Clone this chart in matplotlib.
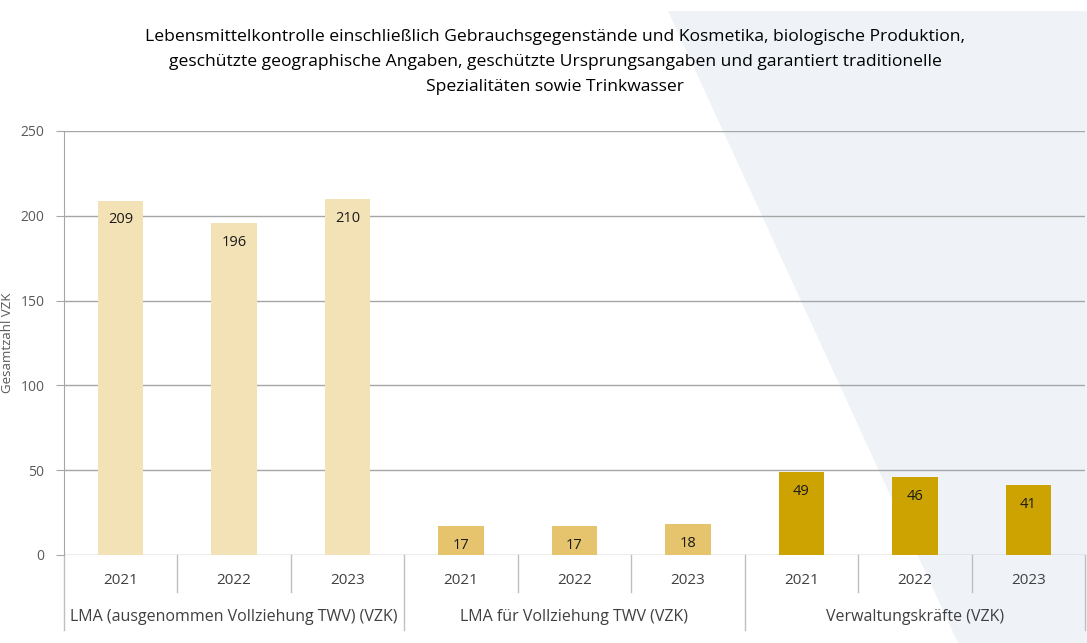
import matplotlib
matplotlib.use("Agg")
import matplotlib.pyplot as plt
from matplotlib.patches import Polygon
import matplotlib.transforms as mtransforms

plt.rcParams['font.family'] = ['Open Sans', 'DejaVu Sans']

# data
groups = ["LMA (ausgenommen Vollziehung TWV) (VZK)",
          "LMA für Vollziehung TWV (VZK)",
          "Verwaltungskräfte (VZK)"]
years = ["2021", "2022", "2023"]
lma_ohne_twv = [209, 196, 210]
lma_twv = [17, 17, 18]
verwaltung = [49, 46, 41]
group_colors = ["#F2E2B6", "#E6C46D", "#CCA300"]

title = ("Lebensmittelkontrolle einschließlich Gebrauchsgegenstände und Kosmetika, biologische Produktion,\n"
         "geschützte geographische Angaben, geschützte Ursprungsangaben und garantiert traditionelle\n"
         "Spezialitäten sowie Trinkwasser")

W, H = 1087, 643
fig = plt.figure(figsize=(W / 100, H / 100), dpi=100)

# light background shape on the right
bg = Polygon([(668 / W, 1 - 11 / H), (1, 1 - 11 / H), (1, 0), (958 / W, 0)],
             closed=True, transform=fig.transFigure, facecolor="#EFF3F7",
             edgecolor="none", zorder=-5)
fig.patches.append(bg)

ax = fig.add_axes([64 / W, 1 - 555 / H, (1085 - 64) / W, (555 - 131) / H])
ax.set_facecolor("none")
ax.set_zorder(1)

series = [lma_ohne_twv, lma_twv, verwaltung]
x = 0
for gi, vals in enumerate(series):
    for v in vals:
        ax.bar(x, v, width=0.4, color=group_colors[gi], zorder=3)
        ax.annotate(str(v), (x, v), xytext=(0, -14), textcoords="offset points",
                    ha="center", va="center", fontsize=10.5, color="#1a1a1a", zorder=4)
        x += 1

n = x
ax.set_xlim(-0.5, n - 0.5)
ax.set_ylim(0, 250)
ax.set_yticks(range(0, 251, 50))
ax.yaxis.grid(True, color="#A6A6A6", linewidth=1)
ax.set_axisbelow(True)
for s in ["top", "right", "bottom"]:
    ax.spines[s].set_visible(False)
ax.spines["left"].set_color("#A6A6A6")
ax.tick_params(axis="y", length=6, color="#A6A6A6", labelcolor="#595959",
               labelsize=10, pad=8)
ax.set_xticks([])
ax.set_ylabel("Gesamtzahl VZK", color="#595959", fontsize=9.5)
ax.yaxis.set_label_coords(-50 / 1021, 0.5)

# two level category axis
tr = mtransforms.blended_transform_factory(ax.transData, ax.transAxes)
hpx = 555 - 131
for i in range(n + 1):
    xb = i - 0.5
    depth = 75 if i % 3 == 0 else 37
    ax.plot([xb, xb], [0, -depth / hpx], transform=tr, color="#BFBFBF",
            linewidth=1, clip_on=False)
for i in range(n):
    ax.text(i, -25 / hpx, years[i % 3], transform=tr, ha="center", va="center",
            fontsize=11, color="#404040")
for gi, g in enumerate(groups):
    ax.text(gi * 3 + 1, -62 / hpx, g, transform=tr, ha="center", va="center",
            fontsize=11.5, color="#404040")

fig.text(555 / W, 1 - 62 / H, title, ha="center", va="center", fontsize=12.6,
         color="#000000", linespacing=1.72)

fig.savefig("out.png", dpi=100)
